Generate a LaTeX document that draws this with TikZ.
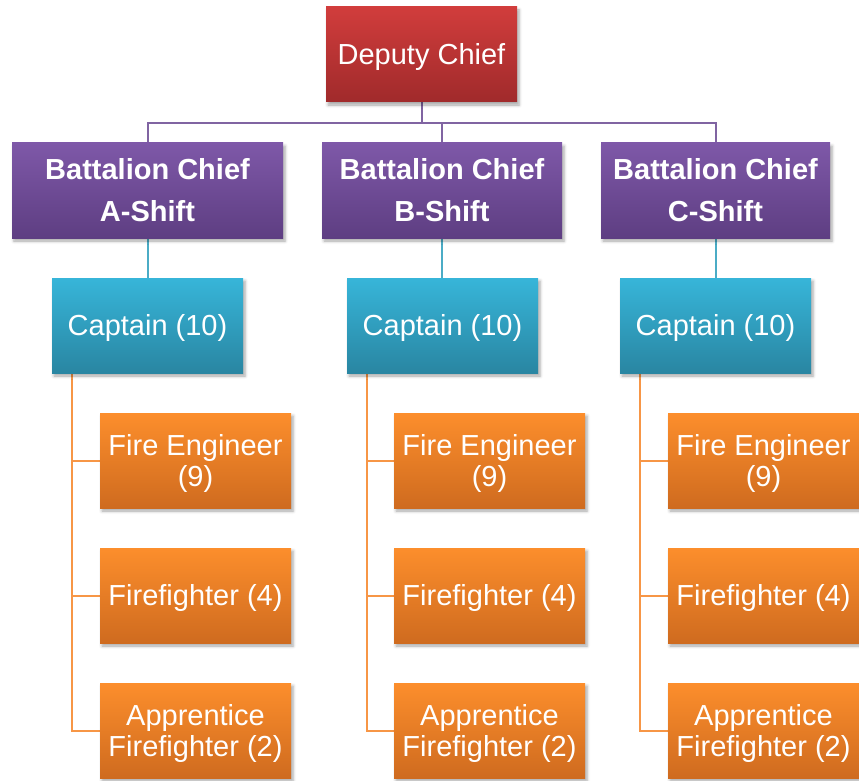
\documentclass[tikz,border=0pt]{standalone}
\usepackage{fontspec}
\setmainfont{Liberation Sans}
\usetikzlibrary{shadows.blur,calc}
\pgfdeclarelayer{background}
\pgfsetlayers{background,main}

\definecolor{redtop}{HTML}{D13D3C}
\definecolor{redbot}{HTML}{A02A2B}
\definecolor{purtop}{HTML}{7E58A8}
\definecolor{purbot}{HTML}{5E3E82}
\definecolor{blutop}{HTML}{37B5D9}
\definecolor{blubot}{HTML}{2986A2}
\definecolor{orgtop}{HTML}{FC8E2C}
\definecolor{orgbot}{HTML}{CF6B1F}
\definecolor{purline}{HTML}{8064A2}
\definecolor{bluline}{HTML}{4BACC6}
\definecolor{orgline}{HTML}{F79646}

\tikzset{
  box/.style={rectangle, inner sep=0pt, minimum height=95pt,
    blur shadow={shadow xshift=2pt, shadow yshift=-3pt,
                 shadow blur radius=3pt, shadow opacity=35}},
  boxtext/.style={text=white, align=center, inner sep=0pt, yshift=-2.5pt,
    font=\fontsize{29}{31}\selectfont},
  deputybox/.style={box, top color=redtop, bottom color=redbot, minimum width=191pt,
    label={[boxtext]center:{#1}}},
  bcbox/.style={box, top color=purtop, bottom color=purbot,
    text=white, align=center, font=\bfseries\fontsize{29}{30}\selectfont},
  capbox/.style={box, top color=blutop, bottom color=blubot, minimum width=191pt,
    label={[boxtext]center:{#1}}},
  crewbox/.style={box, top color=orgtop, bottom color=orgbot, minimum width=191pt,
    label={[boxtext]center:{#1}}},
  purlink/.style={draw=purline, line width=2pt},
  blulink/.style={draw=bluline, line width=2pt},
  orglink/.style={draw=orgline, line width=2pt},
}

\begin{document}
\begin{tikzpicture}[x=1pt, y=-1pt]
\useasboundingbox (0,0) rectangle (859,781);

% top level
\node[deputybox={Deputy Chief}] (dep) at (421.5,54.5) {};

% battalion chiefs
\node[bcbox, minimum width=271pt] (batA) at (147.5,190.5) {Battalion Chief\\[12pt]A-Shift};
\node[bcbox, minimum width=240pt] (batB) at (442,190.5) {Battalion Chief\\[12pt]B-Shift};
\node[bcbox, minimum width=229pt] (batC) at (715.5,190.5) {Battalion Chief\\[12pt]C-Shift};

% captains
\node[capbox={Captain (10)}] (capA) at (147.5,325.5) {};
\node[capbox={Captain (10)}] (capB) at (442.5,325.5) {};
\node[capbox={Captain (10)}] (capC) at (715.5,325.5) {};

% crews
\node[crewbox={Fire Engineer\\(9)}] (engA) at (195.5,460.5) {};
\node[crewbox={Firefighter (4)}] (ffA)  at (195.5,595.5) {};
\node[crewbox={Apprentice\\Firefighter (2)}] (appA) at (195.5,730.5) {};

\node[crewbox={Fire Engineer\\(9)}] (engB) at (489.5,460.5) {};
\node[crewbox={Firefighter (4)}] (ffB)  at (489.5,595.5) {};
\node[crewbox={Apprentice\\Firefighter (2)}] (appB) at (489.5,730.5) {};

\node[crewbox={Fire Engineer\\(9)}] (engC) at (763.5,460.5) {};
\node[crewbox={Firefighter (4)}] (ffC)  at (763.5,595.5) {};
\node[crewbox={Apprentice\\Firefighter (2)}] (appC) at (763.5,730.5) {};

\begin{pgfonlayer}{background}
  % deputy to battalion chiefs
  \coordinate (bus) at (0,123);
  \draw[purlink] (dep.south) -- (dep.south |- bus);
  \draw[purlink] (batA.north) -- (batA.north |- bus) -- (batC.north |- bus) -- (batC.north);
  \draw[purlink] (batB.north) -- (batB.north |- bus);

  % battalion chiefs to captains
  \draw[blulink] (batA.south) -- (batA.south |- capA.north);
  \draw[blulink] (batB.south) -- (batB.south |- capB.north);
  \draw[blulink] (batC.south) -- (batC.south |- capC.north);

  % captains to crews
  \foreach \s in {A,B,C}{
    \coordinate (sp\s) at ($(cap\s.south west)+(20,0)$);
    \draw[orglink] (sp\s) |- (app\s.west);
    \draw[orglink] (sp\s |- eng\s.west) -- (eng\s.west);
    \draw[orglink] (sp\s |- ff\s.west) -- (ff\s.west);
  }
\end{pgfonlayer}
\end{tikzpicture}
\end{document}
